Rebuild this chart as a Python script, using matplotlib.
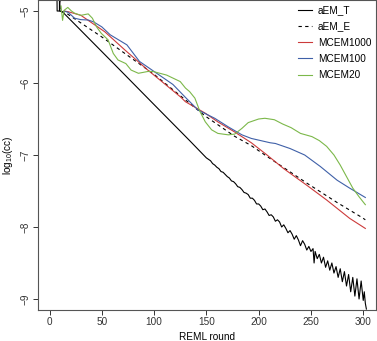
import matplotlib
matplotlib.use("Agg")
import matplotlib.pyplot as plt

plt.rcParams['font.family'] = ['Liberation Sans', 'DejaVu Sans']
plt.rcParams['mathtext.default'] = 'regular'

# aEM_T (black, noisy at the end)
t_x = [7, 7.3, 9.5, 9.6, 10, 13, 60, 100, 134, 148,
       150, 152, 154, 156, 158, 160, 162, 164, 166, 168, 170, 172, 174, 176, 178,
       180, 182, 184, 186, 188, 190, 192, 194, 196, 198, 200, 202, 204, 206, 208,
       210, 212, 214, 216, 218, 220, 222, 224, 226, 228, 230, 232, 234, 236, 238,
       240, 242, 244, 246, 248, 250, 252, 253, 254, 256, 258, 260, 262, 264, 266,
       268, 270, 272, 274, 276, 278, 280, 282, 284, 286, 288, 290, 292, 294, 296,
       298, 300, 301, 302, 303]
t_y = [-4.6, -5.0, -5.0, -4.6, -5.0, -5.02, -5.71, -6.30, -6.80, -7.01,
       -7.04, -7.06, -7.08, -7.12, -7.14, -7.17, -7.19, -7.23, -7.24, -7.27, -7.30, -7.32, -7.36, -7.37, -7.40,
       -7.44, -7.45, -7.48, -7.52, -7.53, -7.55, -7.60, -7.60, -7.63, -7.68, -7.68, -7.71, -7.76, -7.75, -7.79,
       -7.84, -7.83, -7.86, -7.92, -7.90, -7.93, -8.00, -7.97, -8.02, -8.08, -8.05, -8.10, -8.17, -8.12, -8.18,
       -8.26, -8.19, -8.24, -8.32, -8.27, -8.34, -8.30, -8.50, -8.34, -8.44, -8.38, -8.50, -8.42, -8.56, -8.47,
       -8.60, -8.50, -8.64, -8.55, -8.70, -8.58, -8.76, -8.62, -8.82, -8.66, -8.90, -8.70, -8.96, -8.72, -9.00,
       -8.75, -9.02, -8.90, -9.06, -9.14]

# aEM_E (dashed)
e_x = [9.5, 10, 15, 50, 100, 149, 177, 193, 208, 246, 275, 299, 302]
e_y = [-4.6, -5.0, -5.02, -5.36, -5.88, -6.46, -6.74, -6.87, -7.02, -7.39, -7.66, -7.87, -7.90]

# MCEM1000 (red)
r_x = [14, 18, 30, 53, 72, 94, 125, 130, 149, 161, 177, 193, 208, 224, 246, 265, 287, 302]
r_y = [-5.0, -5.01, -5.06, -5.29, -5.54, -5.82, -6.19, -6.26, -6.42, -6.54, -6.68, -6.83, -7.0,
       -7.19, -7.42, -7.625, -7.88, -8.02]

# MCEM100 (blue)
b_x = [14, 18, 24, 30, 37, 42, 50, 58, 66, 74, 86, 100, 118, 130, 142, 158, 171, 184, 193,
       211, 216, 230, 244, 259, 275, 287, 302]
b_y = [-5.0, -5.02, -5.10, -5.12, -5.125, -5.15, -5.22, -5.33, -5.40, -5.47, -5.70, -5.84,
       -6.02, -6.20, -6.375, -6.49, -6.61, -6.72, -6.77, -6.83, -6.84, -6.91, -7.0, -7.16,
       -7.35, -7.46, -7.59]

# MCEM20 (green)
g_x = [11, 12.5, 14, 17.5, 21, 24, 30, 37, 41, 45, 49.5, 56, 61, 65.5, 73, 78, 85, 94, 99,
       112, 125, 130, 134, 139, 144, 149, 155, 161, 171, 177, 184, 190, 200, 206, 215, 223,
       231, 240, 251, 258, 265, 272, 278, 284, 290, 296, 302]
g_y = [-4.93, -5.13, -4.99, -4.95, -5.0, -5.03, -5.06, -5.04, -5.1, -5.22, -5.31, -5.40,
       -5.59, -5.68, -5.73, -5.82, -5.865, -5.84, -5.84, -5.89, -5.98, -6.07, -6.12, -6.21,
       -6.40, -6.54, -6.65, -6.70, -6.72, -6.71, -6.63, -6.55, -6.50, -6.49, -6.51, -6.57,
       -6.62, -6.70, -6.745, -6.80, -6.88, -7.0, -7.14, -7.30, -7.46, -7.58, -7.69]

xticks = [0, 50, 100, 150, 200, 250, 300]
yticks = [-9, -8, -7, -6, -5]

fig = plt.figure(figsize=(3.77, 3.41), dpi=100)
ax = fig.add_axes([38 / 377, 31 / 341, 338 / 377, 310 / 341])

lw = 0.8
ax.plot(t_x, t_y, color='black', lw=lw, label='aEM_T')
ax.plot(e_x, e_y, color='black', lw=lw, ls=(0, (3, 3)), label='aEM_E')
ax.plot(r_x, r_y, color='#CC3A3A', lw=lw, label='MCEM1000')
ax.plot(b_x, b_y, color='#3F60A8', lw=lw, label='MCEM100')
ax.plot(g_x, g_y, color='#7CB84A', lw=lw, label='MCEM20')

ax.set_xlim(-11, 312.2)
ax.set_ylim(-9.153, -4.847)
ax.set_xticks(xticks)
ax.set_yticks(yticks)
ax.tick_params(direction='out', length=3.8, width=0.7, pad=1.5, labelsize=7.2, colors='#333333')
for lab in ax.get_yticklabels():
    lab.set_rotation(90)
    lab.set_va('center')
for s in ax.spines.values():
    s.set_color('#555555')
    s.set_linewidth(0.8)

ax.set_xlabel('REML round', fontsize=7.2, labelpad=3)
ax.set_ylabel('log$_{10}$(cc)', fontsize=7.2, labelpad=4)

ax.legend(loc='upper left', bbox_to_anchor=(0.769, 0.983), frameon=False, fontsize=7.2,
          handlelength=1.4, handletextpad=0.6, labelspacing=0.62, borderpad=0, borderaxespad=0)

fig.savefig('out.png', dpi=100)
